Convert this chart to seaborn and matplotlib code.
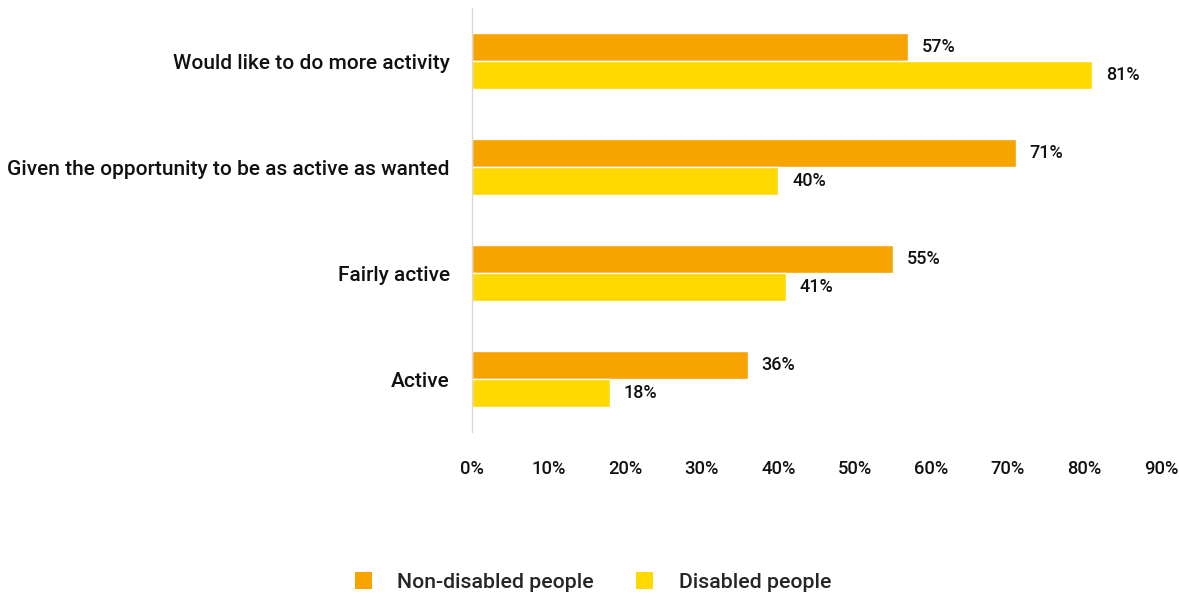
import matplotlib
matplotlib.use("Agg")
import matplotlib.pyplot as plt
import seaborn as sns
import pandas as pd
from matplotlib.patches import Patch
from matplotlib.ticker import FuncFormatter

categories = ["Would like to do more activity",
              "Given the opportunity to be as active as wanted",
              "Fairly active",
              "Active"]
series_names = ["Non-disabled people", "Disabled people"]
non_disabled = [57, 71, 55, 36]
disabled = [81, 40, 41, 18]
x_ticks = [0, 10, 20, 30, 40, 50, 60, 70, 80, 90]
colors = ["#F7A400", "#FFD900"]

rows = []
for c, a, b in zip(categories, non_disabled, disabled):
    rows.append({"cat": c, "series": series_names[0], "val": a})
    rows.append({"cat": c, "series": series_names[1], "val": b})
df = pd.DataFrame(rows)

sns.set_style("white")
plt.rcParams['font.family'] = ['Roboto', 'DejaVu Sans']
plt.rcParams['font.weight'] = 'medium'

fig = plt.figure(figsize=(11.79, 5.99), dpi=100)
ax = fig.add_axes([0.4003, 0.2788, 0.5845, 0.7078])

sns.barplot(data=df, y="cat", x="val", hue="series", order=categories,
            hue_order=series_names, palette=colors, orient="h",
            width=0.528, saturation=1, ax=ax, legend=False)

ax.set_xlim(0, 90)
ax.set_xticks(x_ticks)
ax.xaxis.set_major_formatter(FuncFormatter(lambda v, p: f"{v:.0f}%"))
ax.set_xlabel("")
ax.set_ylabel("")
for s in ["top", "right", "bottom"]:
    ax.spines[s].set_visible(False)
ax.spines["left"].set_color("#d9d9d9")
ax.spines["left"].set_linewidth(1)
ax.tick_params(axis="both", length=0, labelcolor="#111111")
ax.tick_params(axis="y", pad=16, labelsize=15)
ax.tick_params(axis="x", pad=20, labelsize=13.2)
for lab in ax.get_xticklabels() + ax.get_yticklabels():
    lab.set_fontweight("medium")

for cont, vals in zip(ax.containers, [non_disabled, disabled]):
    ax.bar_label(cont, labels=[f"{v}%" for v in vals], padding=10,
                 fontsize=13, color="#111111", fontweight="medium")

handles = [Patch(facecolor=colors[0], edgecolor="none"),
           Patch(facecolor=colors[1], edgecolor="none")]
fig.legend(handles, series_names, loc="center", bbox_to_anchor=(0.503, 0.028),
           ncol=2, frameon=False, fontsize=15.3, handlelength=0.8,
           handleheight=0.8, handletextpad=1.2, columnspacing=2.0)

fig.savefig("out.png", dpi=100)
